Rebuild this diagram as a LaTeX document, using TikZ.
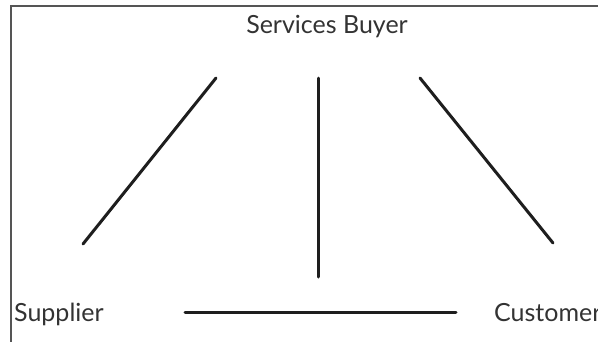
\documentclass[tikz,border=0pt]{standalone}
\usepackage{fontspec}
\setmainfont{Lato}
\definecolor{txt}{HTML}{333333}
\definecolor{ln}{HTML}{1E1E1E}
\definecolor{frm}{HTML}{555555}
\begin{document}
\begin{tikzpicture}[x=1pt,y=-1pt,
  lbl/.style={font=\fontsize{25}{28}\selectfont, text=txt, inner sep=0pt, anchor=base west},
  link/.style={draw=ln, line width=3pt, line cap=round}]
\useasboundingbox (0,0) rectangle (598,341);
\draw[frm, line width=2pt] (11,345) -- (11,6) -- (602,6);
\node[lbl, anchor=base] (buyer) at (327,33) {Services Buyer};
\node[lbl] (supplier) at (14,321) {Supplier};
\node[lbl] (customer) at (494,321) {Customer};
\coordinate (l1) at (83,244); \coordinate (l2) at (216,78);
\coordinate (r1) at (420,78); \coordinate (r2) at (553,243);
\coordinate (v1) at (318,78); \coordinate (v2) at (318,277);
\coordinate (h1) at (185,312); \coordinate (h2) at (456,312);
\draw[link] (l1) -- (l2);
\draw[link] (r1) -- (r2);
\draw[link] (v1) -- (v2);
\draw[link] (h1) -- (h2);
\end{tikzpicture}
\end{document}
